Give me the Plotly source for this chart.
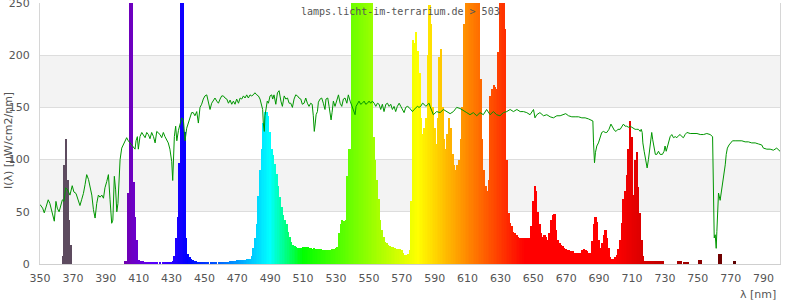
import plotly.graph_objects as go

# ---------------- data ----------------
wavelengths = list(range(350, 801))

spectrum = [
    0, 0, 0, 0, 0, 0, 0, 0, 0, 0,            # 350
    0, 0, 0, 0, 8, 95, 120, 80, 42, 18,      # 360
    0, 0, 0, 0, 0, 0, 0, 0, 0, 0,            # 370
    0, 0, 0, 0, 0, 0, 0, 0, 0, 0,            # 380
    0, 0, 0, 0, 0, 0, 0, 0, 0, 0,            # 390
    0, 0, 3, 3, 68, 400, 380, 79, 45, 23,    # 400
    4, 3, 3, 3, 2, 2, 1, 1, 1, 1,            # 410
    1, 1, 0, 1, 0, 1, 1, 1, 2, 2,            # 420
    2, 3, 8, 25, 45, 97, 420, 400, 126, 25,  # 430
    10, 7, 5, 4, 3, 3, 2, 2, 2, 1,           # 440
    1, 1, 1, 0, 1, 1, 1, 1, 0, 1,            # 450
    1, 1, 1, 2, 2, 2, 3, 3, 3, 3,            # 460
    4, 4, 4, 4, 4, 4, 5, 5, 5, 8,            # 470
    15, 25, 38, 65, 90, 110, 135, 146, 146, 142,   # 480
    126, 110, 104, 96, 86, 75, 64, 55, 47, 42,     # 490
    38, 31, 26, 21, 18, 17, 16, 15, 15, 15,        # 500
    16, 16, 16, 16, 15, 15, 14, 15, 14, 14,        # 510
    14, 14, 13, 13, 13, 13, 13, 13, 14, 14,        # 520
    15, 16, 30, 38, 42, 41, 42, 84, 110, 110,      # 530
    270, 320, 340, 350, 355, 350, 345, 335, 320, 305,  # 540
    290, 270, 255, 122, 100, 80, 62, 42, 33, 26,   # 550
    21, 20, 18, 17, 16, 16, 15, 14, 14, 14,        # 560
    13, 11, 9, 9, 10, 13, 60, 215, 212, 222,       # 570
    204, 183, 140, 125, 130, 140, 200, 248, 230, 150,  # 580
    130, 115, 140, 198, 206, 150, 120, 110, 125, 140,  # 590
    130, 105, 95, 90, 95, 100, 120, 150, 230, 300,     # 600
    330, 340, 345, 345, 340, 330, 310, 250, 177, 120,  # 610
    90, 75, 70, 80, 161, 168, 171, 170, 168, 203,      # 620
    300, 350, 300, 225, 100, 49, 39, 36, 31, 30,       # 630
    28, 26, 25, 25, 25, 25, 25, 25, 25, 36,            # 640
    60, 75, 70, 50, 38, 30, 26, 28, 26, 23,            # 650
    30, 42, 47, 48, 33, 23, 20, 18, 17, 15,            # 660
    14, 13, 13, 12, 12, 11, 11, 11, 11, 11,            # 670
    13, 14, 13, 12, 11, 11, 22, 38, 45, 40,            # 680
    23, 15, 20, 28, 33, 25, 15, 7, 5, 5,               # 690
    7, 9, 14, 23, 39, 62, 70, 85, 110, 137,            # 700
    122, 66, 100, 107, 74, 49, 23, 8, 3, 3,            # 710
    3, 3, 3, 3, 3, 3, 3, 3, 3, 3,                      # 720
    0, 0, 0, 0, 0, 0, 0, 0, 3, 3,                      # 730
    3, 0, 2, 2, 2, 0, 0, 0, 0, 0,                      # 740
    0, 4, 4, 0, 0, 0, 0, 0, 0, 0,                      # 750
    0, 0, 0, 10, 10, 0, 0, 0, 0, 0,                    # 760
    0, 0, 3, 3, 0, 0, 0, 0, 0, 0,                      # 770
    0, 0, 0, 0, 0, 0, 0, 0, 0, 0,                      # 780
    0, 0, 0, 0, 0, 0, 0, 0, 0, 0,                      # 790
    0,                                                 # 800
]

ref_wl = [
    350, 351.6, 352.6, 354, 355, 356, 357.1, 358.1, 358.7, 359.7, 360.5, 361.6, 362.6, 363.6, 364.6,
    365.6, 366.8, 368.2, 369.6, 370.6, 371.9, 373.1, 374.3, 375.3, 376.4, 377.4, 378.4, 379.5, 380.4,
    381.5, 382.5, 383.5, 384.5, 385.5, 386.5, 387.6, 388.6, 389.5, 390.6, 391.6, 392.6, 393.6, 394.3,
    395.2, 396, 396.7, 397.4, 398.2, 398.7, 399.7, 400.7, 401.7, 402.7, 403.7, 404.7, 405.8, 406.8,
    407.8, 408.4, 409.2, 409.8, 410.8, 411.9, 412.9, 413.9, 414.9, 415.9, 416.9, 417.9, 419, 420,
    421, 421.9, 423, 424, 425, 426, 427, 428, 429, 430.1, 430.7, 431.1, 431.7, 432.5, 433.2, 434.2,
    435.2, 436.2, 437.2, 438.2, 439.2, 440.2, 441.2, 442.2, 443.2, 444.2, 445.3, 446.3, 447.3, 448.3,
    449.3, 450.3, 451.4, 452.4, 453.4, 454.4, 455.4, 456.4, 457.5, 458.5, 459.5, 460.5, 461.5, 462.5,
    463.6, 464.6, 465.6, 466.6, 467.6, 468.6, 469.6, 470.7, 471.7, 472.7, 473.7, 474.7, 475.7, 476.7,
    477.7, 478.7, 479.7, 480.7, 481.8, 482.8, 483.8, 484.8, 485.4, 485.8, 486.4, 486.8, 487.5, 488.2,
    488.9, 489.9, 490.9, 491.5, 492.3, 493.4, 494.4, 495.4, 496.5, 497.4, 498.5, 499.5, 500.5, 501.5,
    502.5, 503.5, 504.5, 505.5, 506.6, 507.5, 508.6, 509.5, 510.6, 511.6, 512.6, 513.6, 514.6, 515.5,
    516.2, 516.8, 517.4, 517.9, 518.7, 519.3, 520.3, 521.3, 522.3, 523.3, 523.9, 525, 525.8, 526.4,
    527, 527.6, 528.4, 529.4, 530.4, 531.5, 532.5, 533.5, 534.5, 535.5, 536.6, 537.5, 538.6, 539.6,
    540.6, 541.6, 542.2, 543, 544, 545, 546, 547.1, 548.1, 549.1, 550.1, 551.1, 552.1, 553.2, 554.2,
    555.2, 556.2, 557.2, 558.2, 559.2, 560.3, 561.3, 562.3, 563.3, 564.3, 565.3, 566.3, 567.3, 568.4,
    569.4, 570.4, 571.4, 572.4, 573.4, 574.4, 575.4, 576.5, 577.5, 578.5, 579.5, 580.5, 581.5, 582.6,
    583.6, 584.6, 585.6, 586.6, 587.2, 589.2, 591.2, 593.3, 595.3, 597.3, 599.4, 601.4, 603.4, 605.4,
    607.5, 609.5, 611.5, 613.5, 615.6, 617.6, 619.6, 621.6, 623.7, 625.7, 627.7, 629.7, 631.8, 633.8,
    635.9, 637.9, 640, 642, 644, 646, 648, 650.1, 651, 652.1, 654, 656.2, 658.2, 660.2, 662.2, 664.3,
    666.3, 668.3, 669.7, 671.4, 673.4, 675.4, 677.5, 679.5, 681.5, 683.5, 685, 686.2, 686.6, 687.2,
    687.8, 688.6, 689.6, 690.6, 691.6, 692.7, 693.7, 694.7, 696, 697.2, 698.2, 699.3, 700.3, 701.4,
    702.8, 703.8, 704.8, 705.8, 706.8, 707.8, 708.9, 709.9, 710.9, 711.9, 712.9, 713.9, 715, 715.6,
    716.2, 716.6, 717.4, 718.4, 719.2, 720, 720.6, 721.4, 722, 722.6, 723.5, 724.2, 725.1, 726.1,
    727.1, 728.5, 729.5, 730.1, 730.8, 731.5, 732.4, 733.2, 734.2, 735.2, 736.3, 737.3, 738.3, 739.3,
    740.3, 741.3, 742.3, 743.4, 745.4, 747.4, 749.5, 751.5, 753.5, 755.5, 757.5, 759, 759.6, 760,
    760.6, 761.2, 761.6, 762, 762.6, 763.6, 764.6, 765.6, 766.7, 767.3, 768, 769, 770.1, 771.1,
    772.7, 774.7, 776.8, 778.8, 780.8, 782.8, 784.9, 786.9, 788.9, 789.9, 792, 794, 796, 798, 798.7, 800,
]

ref_val = [
    57, 53.5, 49, 58, 61.5, 58, 50, 44, 41, 60, 53.5, 50, 57, 61.5, 60,
    73, 71, 66, 75, 69, 67.6, 61.5, 56, 61.5, 67.6, 76, 85.6, 81, 73,
    66, 52, 44, 58, 66, 64, 66, 63, 73, 79, 85.6, 61.5, 39, 42,
    84, 71, 50, 58, 90, 100, 111, 114, 118, 121, 118, 116, 113, 111,
    110, 118, 122, 110, 122, 126, 124, 121, 126, 124, 120, 126, 122, 116,
    127, 126, 124, 121, 126, 122, 119, 116, 110, 98, 80, 92, 122, 132, 118, 128,
    135, 140, 138, 118, 130, 135, 138, 145, 145, 142, 146, 135, 150, 153,
    158, 161, 162, 156, 148, 154, 156, 159, 156, 154, 158, 161, 161, 159,
    158, 154, 157, 153, 156, 153, 158, 154, 159, 158, 161, 159, 162, 159,
    162, 161, 162, 164, 162, 161, 158, 153, 148, 135, 127, 142, 150, 156,
    154, 161, 162, 158, 162, 153, 164, 166, 156, 151, 161, 158, 159, 154,
    154, 150, 158, 162, 161, 159, 158, 153, 154, 159, 154, 151, 154, 153,
    142, 127, 135, 143, 146, 155, 158, 159, 154, 148, 158, 159, 151, 146,
    138, 145, 156, 151, 156, 162, 154, 151, 158, 159, 154, 162, 156, 151,
    146, 143, 151, 154, 156, 153, 154, 156, 153, 154, 156, 154, 156, 154, 151,
    154, 153, 148, 153, 146, 153, 154, 151, 153, 148, 151, 146, 151, 154,
    151, 148, 145, 150, 151, 150, 148, 146, 148, 150, 151, 150, 151, 154,
    153, 151, 153, 154, 151, 143, 146, 145, 148, 146, 144, 146, 150, 149,
    146.5, 145, 143, 145, 142, 145, 143, 148, 143, 146, 143, 142, 145, 146,
    148, 146, 148, 146, 146, 145, 143, 148, 140, 143, 145, 142, 143, 141, 140, 142,
    142, 143, 144, 142, 141, 141, 141, 140, 140, 139, 138, 137, 116, 97,
    107, 113, 116, 121, 126, 127, 126, 126, 129, 134, 131, 128, 127, 129,
    129, 131, 134, 132, 132, 131, 132, 131, 130, 129, 129, 129, 127, 129,
    126, 116, 108, 100, 92, 100, 108, 114, 126, 119, 110, 105, 105, 108,
    105, 105, 108, 113, 108, 113, 119, 122, 124, 121, 122, 121, 123, 124,
    122, 121, 124, 126, 125, 125, 125, 124, 124, 125, 124, 122, 74, 25,
    28, 15, 31, 52, 68, 61, 71, 84, 95, 105, 111, 114, 116, 118,
    118, 118, 118, 117, 117, 116, 116, 115, 114, 111, 110, 110, 109, 111, 110, 108,
]

x_ticks = list(range(350, 800, 20))
y_ticks = [0, 50, 100, 150, 200, 250]
title_text = "lamps.licht-im-terrarium.de > 503"
y_title = "I(λ) [µW/cm2/nm]"
x_title = "λ [nm]"


# ---------------- style helpers ----------------
def wl_color(w):
    if w < 380:
        return "#5d4b5f"
    if w < 440:
        r, g, b = -(w - 440) / 60.0, 0.0, 1.0
    elif w < 490:
        r, g, b = 0.0, (w - 440) / 50.0, 1.0
    elif w < 510:
        r, g, b = 0.0, 1.0, -(w - 510) / 20.0
    elif w < 580:
        r, g, b = (w - 510) / 70.0, 1.0, 0.0
    elif w < 645:
        r, g, b = 1.0, -(w - 645) / 65.0, 0.0
    else:
        r, g, b = 1.0, 0.0, 0.0
    if w < 420:
        f = 0.3 + 0.7 * (w - 380) / 40.0
    elif w > 700:
        f = max(0.3 + 0.7 * (780 - w) / 80.0, 0.3)
    else:
        f = 1.0
    return "rgb(%d,%d,%d)" % (round(255 * r * f), round(255 * g * f), round(255 * b * f))


bar_colors = [wl_color(w) for w in wavelengths]

FONT = "DejaVu Sans"
TXT = "#555555"

fig = go.Figure()
fig.add_trace(go.Bar(
    x=wavelengths, y=spectrum, width=1.05,
    marker=dict(color=bar_colors, line=dict(width=0)),
    hoverinfo="skip",
))
fig.add_trace(go.Scatter(
    x=ref_wl, y=ref_val, mode="lines",
    line=dict(color="#009600", width=1),
    hoverinfo="skip",
))

shapes = []
for lo, hi in [(50, 100), (150, 200)]:
    shapes.append(dict(type="rect", xref="paper", x0=0, x1=1, yref="y", y0=lo, y1=hi,
                       fillcolor="#f3f3f3", line=dict(width=0), layer="below"))

L, R, T, B = 40, 20, 3, 36
W, H = 800, 300
pw, ph = W - L - R, H - T - B


def px(xp):
    return (xp - L) / pw


def py(yp):
    return (H - B - yp) / ph


fig.update_layout(
    width=W, height=H,
    margin=dict(l=L, r=R, t=T, b=B, pad=0, autoexpand=False),
    paper_bgcolor="white", plot_bgcolor="white",
    showlegend=False, bargap=0,
    font=dict(family=FONT, size=11, color=TXT),
    shapes=shapes,
    xaxis=dict(range=[350, 800], tickvals=x_ticks, showgrid=False, zeroline=False,
               showline=True, linecolor="#cfcfcf", linewidth=1, automargin=False,
               ticks="outside", ticklen=4, tickcolor="rgba(0,0,0,0)",
               ticklabeloverflow="allow",
               tickfont=dict(family=FONT, size=11, color=TXT)),
    yaxis=dict(range=[0, 250], tickvals=y_ticks, showgrid=True, gridcolor="#dddddd",
               gridwidth=1, zeroline=False, showline=True, mirror=True,
               linecolor="#d6d6d6", linewidth=1, automargin=False,
               ticks="outside", ticklen=7, tickcolor="rgba(0,0,0,0)",
               ticklabeloverflow="allow",
               tickfont=dict(family=FONT, size=11, color=TXT)),
    annotations=[
        dict(text=title_text, xref="paper", yref="paper", x=px(400), y=py(11),
             xanchor="center", yanchor="middle", showarrow=False,
             font=dict(family="DejaVu Sans Mono", size=10, color=TXT)),
        dict(text=y_title, xref="paper", yref="paper", x=px(8), y=py(141),
             xanchor="center", yanchor="middle", showarrow=False, textangle=-90,
             font=dict(family=FONT, size=11, color=TXT)),
        dict(text=x_title, xref="paper", yref="paper", x=px(778), y=py(294),
             xanchor="right", yanchor="middle", showarrow=False,
             font=dict(family=FONT, size=11, color=TXT)),
    ],
)

fig.write_html("out.html")
